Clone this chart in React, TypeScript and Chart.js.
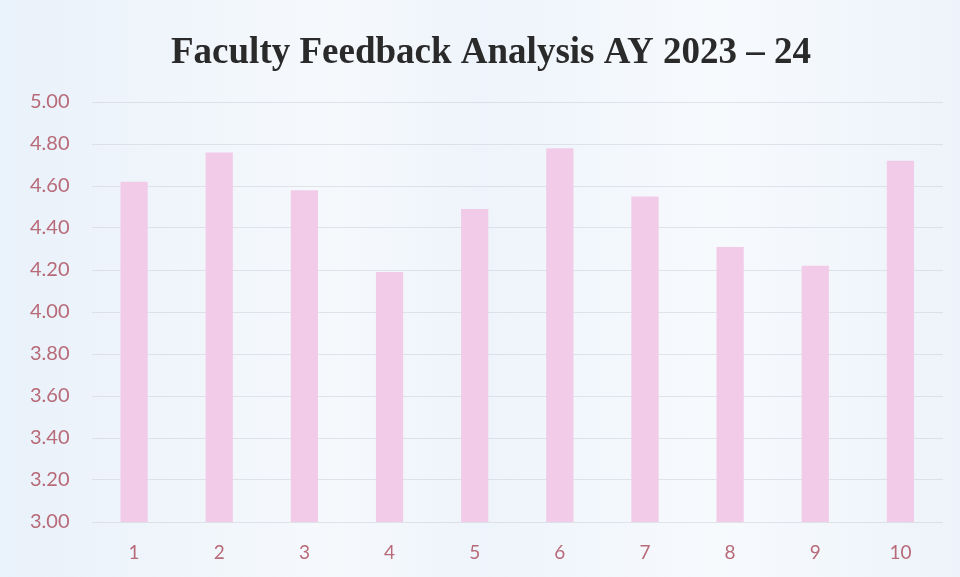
import React, { useEffect, useRef } from "react";
import { Chart, registerables } from "chart.js";

Chart.register(...registerables);

const categories = ["1", "2", "3", "4", "5", "6", "7", "8", "9", "10"];
const scores = [4.62, 4.76, 4.58, 4.19, 4.49, 4.78, 4.55, 4.31, 4.22, 4.72];
const titleText = "Faculty Feedback Analysis AY 2023 \u2013 24";

const bgPlugin = {
  id: "bgPlugin",
  beforeDraw(chart: any) {
    const { ctx, width, height } = chart;
    ctx.save();
    const g = ctx.createLinearGradient(0, 0, width, 0);
    g.addColorStop(0, "#e9f1fa");
    g.addColorStop(0.35, "#f6f9fc");
    g.addColorStop(0.5, "#eef4fb");
    g.addColorStop(0.75, "#f7fafd");
    g.addColorStop(1, "#edf3fa");
    ctx.fillStyle = g;
    ctx.fillRect(0, 0, width, height);
    ctx.restore();
  },
};

const titlePlugin = {
  id: "titlePlugin",
  afterDraw(chart: any) {
    const { ctx } = chart;
    ctx.save();
    ctx.fillStyle = "#2a2a2a";
    ctx.font = "bold 37px 'Liberation Serif'";
    ctx.textAlign = "center";
    ctx.textBaseline = "alphabetic";
    ctx.fillText(titleText, 491, 63);
    ctx.restore();
  },
};

export default function App() {
  const ref = useRef<HTMLCanvasElement>(null);
  useEffect(() => {
    document.body.style.margin = "0";
    const chart = new Chart(ref.current!, {
      type: "bar",
      data: {
        labels: categories,
        datasets: [
          {
            data: scores,
            backgroundColor: "#f2cbe9",
            barPercentage: 0.64,
            categoryPercentage: 0.5,
          },
        ],
      },
      options: {
        responsive: false,
        animation: false,
        layout: { padding: { left: 8, right: 17, top: 102, bottom: 2 } },
        plugins: {
          legend: { display: false },
          tooltip: { enabled: false },
          title: { display: false },
        },
        scales: {
          x: {
            grid: { display: false },
            border: { display: false },
            ticks: {
              color: "#b86a78",
              font: { family: "Lato", size: 19, lineHeight: 1 },
              padding: 13,
            },
          },
          y: {
            min: 3,
            max: 5,
            border: { display: false },
            grid: { color: "rgba(200,200,210,0.45)", lineWidth: 1, drawTicks: false },
            ticks: {
              stepSize: 0.2,
              color: "#b86a78",
              font: { family: "Lato", size: 20 },
              padding: 22,
              callback: (v: any) => Number(v).toFixed(2),
            },
          },
        },
      },
      plugins: [bgPlugin, titlePlugin],
    });
    return () => chart.destroy();
  }, []);
  return <canvas ref={ref} width={960} height={577} style={{ display: "block" }} />;
}
